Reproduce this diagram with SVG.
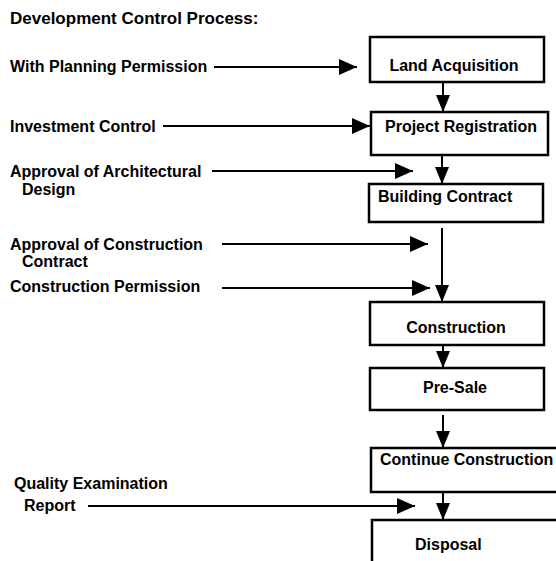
<svg xmlns="http://www.w3.org/2000/svg" width="556" height="561" viewBox="0 0 556 561">
<style>
text{font-family:"Liberation Sans",Arial,sans-serif;font-weight:bold;font-size:16px;fill:#000}
.title{font-size:17px}
.box{fill:#fff;stroke:#000;stroke-width:2.5}
.conn{stroke:#000;stroke-width:2;fill:none}
.mid{text-anchor:middle}
</style>
<defs>
<marker id="ah" markerUnits="userSpaceOnUse" markerWidth="18" markerHeight="16" refX="18" refY="8" orient="auto">
<path d="M0,0 L18,8 L0,16 z" fill="#000"/>
</marker>
<marker id="av" markerUnits="userSpaceOnUse" markerWidth="17" markerHeight="14" refX="17" refY="7" orient="auto">
<path d="M0,0 L17,7 L0,14 z" fill="#000"/>
</marker>
</defs>
<rect width="556" height="561" fill="#fff"/>
<text class="title" x="10" y="24">Development Control Process:</text>
<g id="inputs">
<text x="10" y="72">With Planning Permission</text>
<text x="10" y="132">Investment Control</text>
<text x="10" y="177">Approval of Architectural</text>
<text x="22" y="195">Design</text>
<text x="10" y="250">Approval of Construction</text>
<text x="22" y="267">Contract</text>
<text x="10" y="292">Construction Permission</text>
<text x="14" y="489">Quality Examination</text>
<text x="24" y="511">Report</text>
</g>
<g id="connectors">
<line class="conn" x1="214" y1="67" x2="357" y2="67" marker-end="url(#ah)"/>
<line class="conn" x1="163" y1="126" x2="370" y2="126" marker-end="url(#ah)"/>
<line class="conn" x1="212" y1="171" x2="413" y2="171" marker-end="url(#ah)"/>
<line class="conn" x1="222" y1="244" x2="428" y2="244" marker-end="url(#ah)"/>
<line class="conn" x1="222" y1="288" x2="430" y2="288" marker-end="url(#ah)"/>
<line class="conn" x1="88" y1="506" x2="415" y2="506" marker-end="url(#ah)"/>
<line class="conn" x1="443" y1="82" x2="443" y2="112" marker-end="url(#av)"/>
<line class="conn" x1="442" y1="155" x2="442" y2="184" marker-end="url(#av)"/>
<line class="conn" x1="442" y1="228" x2="442" y2="302" marker-end="url(#av)"/>
<line class="conn" x1="443" y1="345" x2="443" y2="368" marker-end="url(#av)"/>
<line class="conn" x1="443" y1="415" x2="443" y2="448" marker-end="url(#av)"/>
<line class="conn" x1="443" y1="492" x2="443" y2="520" marker-end="url(#av)"/>
</g>
<g id="land-acquisition">
<rect class="box" x="370" y="37" width="174" height="45"/>
<text class="mid" x="454" y="71">Land Acquisition</text>
</g>
<g id="project-registration">
<rect class="box" x="371" y="112" width="177" height="43"/>
<text class="mid" x="461" y="132">Project Registration</text>
</g>
<g id="building-contract">
<rect class="box" x="369" y="184" width="174" height="38"/>
<text x="378" y="202">Building Contract</text>
</g>
<g id="construction">
<rect class="box" x="370" y="302" width="174" height="43"/>
<text class="mid" x="456" y="333">Construction</text>
</g>
<g id="pre-sale">
<rect class="box" x="370" y="368" width="174" height="42"/>
<text class="mid" x="455" y="393">Pre-Sale</text>
</g>
<g id="continue-construction">
<rect class="box" x="371" y="448" width="200" height="44"/>
<text x="380" y="465">Continue Construction</text>
</g>
<g id="disposal">
<rect class="box" x="372" y="520" width="200" height="60"/>
<text x="415" y="550">Disposal</text>
</g>
</svg>
